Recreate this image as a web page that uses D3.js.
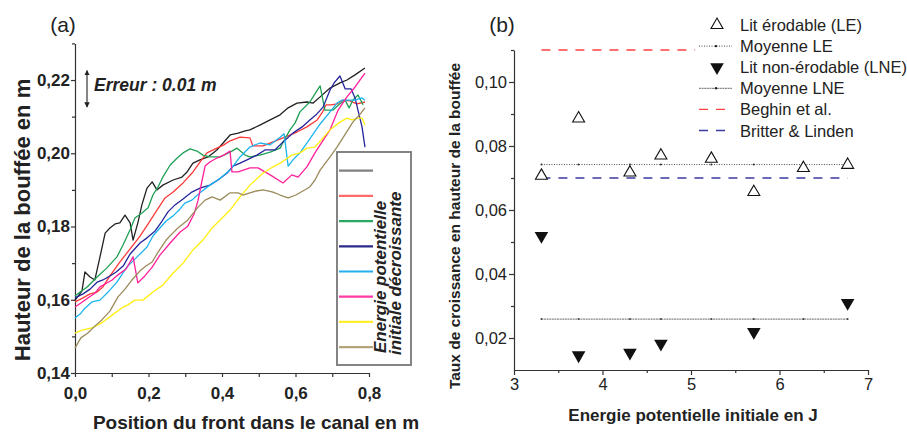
<!DOCTYPE html>
<html><head><meta charset="utf-8">
<script src="https://cdn.jsdelivr.net/npm/d3@7/dist/d3.min.js"></script>
<style>
body{margin:0;background:#fff}
svg{display:block}
text{font-family:"Liberation Sans",Arial,sans-serif;fill:#222}
</style>
</head><body>
<svg id="c" width="907" height="432"></svg>
<script>
// ---------- Panel (a) data ----------
const seriesNames = ["s1","s2","s3","s4","s5","s6","s7","s8"];
const blackX = [0,.011,.019,.027,.041,.054,.068,.082,.095,.109,.122,.136,.150,.158,.171,.182,.196,.210,.223,.239,.267,.291,.305,.321,.340,.362,.386,.403,.422,.444,.463,.476,.503,.531,.558,.580,.604,.631,.648,.667,.694,.721,.740,.762,.789];
const blackY = [.1599,.1613,.1624,.1676,.1662,.1654,.1717,.1782,.1796,.1807,.1810,.1831,.1810,.1763,.1810,.1859,.1905,.1922,.1900,.1913,.1927,.1935,.1949,.1973,.1982,.1990,.2009,.2028,.2050,.2055,.2061,.2064,.2077,.2091,.2105,.2124,.2137,.2140,.2137,.2154,.2178,.2192,.2200,.2214,.2233];
const redX = [0,.022,.041,.060,.076,.095,.122,.150,.177,.199,.223,.245,.267,.294,.321,.340,.359,.386,.405,.422,.449,.476,.484,.512,.539,.566,.604,.631,.659,.672,.683,.697,.713,.729,.748,.767,.789];
const redY = [.1594,.1605,.1616,.1621,.1635,.1665,.1703,.1739,.1774,.1807,.1845,.1878,.1894,.1919,.1949,.1976,.2001,.2014,.2023,.2034,.2044,.2042,.2020,.2020,.2031,.2042,.2058,.2072,.2091,.2110,.2132,.2132,.2135,.2145,.2143,.2135,.2140];
const greenX = [0,.014,.033,.060,.087,.114,.131,.150,.163,.182,.199,.212,.226,.239,.259,.278,.294,.313,.332,.348,.367,.395,.422,.441,.463,.476,.503,.531,.558,.571,.585,.599,.612,.639,.656,.667,.680,.702,.721,.735,.746,.756,.770,.784];
const greenY = [.1610,.1621,.1635,.1662,.1687,.1717,.1750,.1791,.1823,.1837,.1851,.1886,.1908,.1935,.1968,.1987,.2001,.2012,.2006,.1995,.1990,.1990,.2003,.2014,.1995,.1990,.1995,.2003,.2014,.2039,.2064,.2083,.2113,.2140,.2167,.2184,.2118,.2118,.2135,.2145,.2124,.2145,.2159,.2132];
const blueX = [0,.022,.041,.060,.076,.095,.112,.131,.150,.177,.196,.218,.237,.253,.272,.294,.318,.340,.367,.389,.414,.430,.449,.468,.495,.517,.544,.566,.593,.618,.639,.656,.675,.694,.705,.721,.735,.751,.762,.770,.781,.789];
const blueY = [.1605,.1616,.1629,.1648,.1654,.1665,.1676,.1692,.1725,.1755,.1769,.1788,.1815,.1840,.1859,.1875,.1894,.1905,.1913,.1927,.1946,.1965,.1973,.1982,.1995,.2009,.2009,.2031,.2055,.2072,.2091,.2105,.2126,.2173,.2192,.2211,.2176,.2176,.2151,.2118,.2072,.2017];
const cyanX = [0,.014,.027,.046,.068,.090,.114,.141,.169,.196,.212,.231,.248,.267,.286,.299,.318,.340,.367,.395,.422,.449,.476,.503,.531,.558,.569,.580,.593,.612,.639,.667,.694,.713,.727,.743,.762,.781,.789];
const cyanY = [.1550,.1561,.1577,.1594,.1599,.1621,.1648,.1689,.1717,.1744,.1774,.1796,.1815,.1829,.1848,.1864,.1872,.1892,.1913,.1932,.1954,.1990,.2017,.2028,.2023,.2044,.2053,.1965,.1982,.2001,.2039,.2080,.2113,.2137,.2145,.2145,.2145,.2151,.2145];
const magentaX = [0,.016,.035,.054,.068,.082,.101,.117,.139,.158,.171,.190,.210,.231,.259,.286,.307,.324,.335,.346,.354,.367,.386,.405,.422,.427,.444,.476,.498,.531,.566,.590,.607,.631,.653,.667,.694,.716,.740,.762,.789];
const magentaY = [.1580,.1591,.1605,.1618,.1635,.1643,.1654,.1668,.1684,.1717,.1646,.1665,.1689,.1722,.1755,.1785,.1801,.1834,.1872,.1927,.1965,.1976,.1987,.1995,.2006,.1949,.1949,.1960,.1960,.1941,.1919,.1941,.1935,.1963,.2001,.2023,.2064,.2118,.2154,.2181,.2219];
const yellowX = [0,.019,.046,.073,.101,.131,.144,.163,.185,.212,.239,.267,.294,.321,.348,.373,.395,.422,.449,.476,.512,.539,.563,.590,.612,.631,.653,.675,.694,.721,.740,.754,.770,.781,.789];
const yellowY = [.1509,.1517,.1523,.1537,.1558,.1580,.1586,.1599,.1599,.1621,.1640,.1673,.1700,.1736,.1763,.1796,.1818,.1845,.1881,.1913,.1946,.1963,.1976,.1995,.2001,.2014,.2017,.2042,.2064,.2085,.2096,.2091,.2096,.2096,.2077];
const brownX = [0,.016,.035,.054,.073,.095,.117,.136,.155,.177,.193,.210,.226,.248,.264,.280,.307,.335,.354,.373,.395,.422,.444,.457,.476,.493,.512,.539,.558,.580,.601,.620,.639,.653,.667,.694,.713,.729,.756,.776,.789];
const brownY = [.1468,.1496,.1509,.1528,.1545,.1569,.1608,.1629,.1654,.1679,.1692,.1703,.1730,.1763,.1780,.1796,.1818,.1853,.1872,.1881,.1872,.1892,.1892,.1886,.1892,.1897,.1900,.1894,.1886,.1878,.1886,.1897,.1908,.1927,.1954,.1990,.2017,.2042,.2085,.2107,.2124];
const aXTicks = [0,0.2,0.4,0.6,0.8];
const aXMinor = [0.1,0.3,0.5,0.7];
const aYTicks = [0.14,0.16,0.18,0.20,0.22];
const aYMinor = [0.15,0.17,0.19,0.21,0.23];
const errorValue = 0.01;

// ---------- Panel (b) data ----------
const leX = [3.31,3.73,4.31,4.66,5.23,5.71,6.27,6.77];
const leY = [0.0707,0.0886,0.0717,0.0770,0.0760,0.0656,0.0731,0.0741];
const lneX = [3.31,3.73,4.31,4.66,5.71,6.77];
const lneY = [0.0519,0.0146,0.0154,0.0182,0.0219,0.0310];
const meanLE = 0.0742, meanLNE = 0.0259, beghin = 0.11, britter = 0.070;
const refRange = [3.31,6.77];
const bXTicks = [3,4,5,6,7];
const bXMinor = [3.5,4.5,5.5,6.5];
const bYTicks = [0.02,0.04,0.06,0.08,0.10];
const bYMinor = [0.03,0.05,0.07,0.09,0.11];
const legendB = ["Lit érodable (LE)","Moyenne LE","Lit non-érodable (LNE)","Moyenne LNE","Beghin et al.","Britter & Linden"];

// ---------- styles ----------
const aColors = ["#222222","#ff3a3a","#1fa055","#25259a","#1cb4ee","#ff1f9a","#ffee10","#9c8a5c"];
const aLegendColors = ["#808080","#ff6a6a","#2aa860","#2a2a8a","#22b0ee","#ff3aa0","#ffee30","#b4a47c"];

const svg = d3.select("#c");
const comma = f => v => d3.format(f)(v).replace(".", ",");

// ================= Panel (a) =================
const xa = d3.scaleLinear().domain([0,0.8]).range([75,369]);
const ya = d3.scaleLinear().domain([0.14,0.23]).range([373,43.4]);
const ga = svg.append("g");

function styleAxis(g, bold, size){
  g.select(".domain").attr("stroke","#333").attr("stroke-width",1.2);
  g.selectAll(".tick line").attr("stroke","#333").attr("stroke-width",1.2);
  g.selectAll(".tick text").attr("font-size",size).attr("font-weight",bold?"bold":"normal")
    .attr("fill","#222").attr("font-family","Liberation Sans, Arial, sans-serif");
}

const axYa = ga.append("g").attr("transform","translate(75,0)")
  .call(d3.axisLeft(ya).tickValues(aYTicks).tickFormat(comma(".2f")).tickSize(4).tickPadding(1).tickSizeOuter(0));
styleAxis(axYa,true,17);
const axYam = ga.append("g").attr("transform","translate(75,0)")
  .call(d3.axisLeft(ya).tickValues(aYMinor).tickFormat("").tickSize(3).tickSizeOuter(0));
axYam.select(".domain").remove(); styleAxis(axYam,true,17);

const axXa = ga.append("g").attr("transform","translate(0,373)")
  .call(d3.axisBottom(xa).tickValues(aXTicks).tickFormat(comma(".1f")).tickSize(4).tickPadding(10).tickSizeOuter(0));
styleAxis(axXa,true,17);
const axXam = ga.append("g").attr("transform","translate(0,373)")
  .call(d3.axisBottom(xa).tickValues(aXMinor).tickFormat("").tickSize(4).tickSizeOuter(0));
axXam.select(".domain").remove(); styleAxis(axXam,true,17);

const allA = [[blackX,blackY],[redX,redY],[greenX,greenY],[blueX,blueY],[cyanX,cyanY],[magentaX,magentaY],[yellowX,yellowY],[brownX,brownY]];
const lineA = d3.line().x(d=>xa(d[0])).y(d=>ya(d[1]));
allA.forEach((s,i)=>{
  const pts = s[0].map((x,j)=>[x,s[1][j]]);
  ga.append("path").datum(pts).attr("d",lineA).attr("fill","none")
    .attr("stroke",aColors[i]).attr("stroke-width",1.3).attr("stroke-linejoin","round");
});

// error bar
const errTop = 0.2226, errX = 87;
const defs = svg.append("defs");
defs.append("marker").attr("id","ah").attr("viewBox","0 0 10 10").attr("refX",9).attr("refY",5)
  .attr("markerWidth",5).attr("markerHeight",6).attr("orient","auto-start-reverse")
  .append("path").attr("d","M0,0 L10,5 L0,10 z").attr("fill","#222");
ga.append("line").attr("x1",errX).attr("x2",errX).attr("y1",ya(errTop)).attr("y2",ya(errTop-errorValue))
  .attr("stroke","#222").attr("stroke-width",1.1)
  .attr("marker-start","url(#ah)").attr("marker-end","url(#ah)");
ga.append("text").attr("x",94).attr("y",91).attr("font-size",17.5).attr("font-weight","bold")
  .attr("font-style","italic").text("Erreur : 0.01 m");

// legend (a)
ga.append("rect").attr("x",337).attr("y",152).attr("width",74).attr("height",213)
  .attr("fill","#fff").attr("stroke","#777").attr("stroke-width",1.8);
seriesNames.forEach((n,i)=>{
  const yy = 170.7 + i*25.2;
  ga.append("line").attr("x1",339).attr("x2",373).attr("y1",yy).attr("y2",yy)
    .attr("stroke",aLegendColors[i]).attr("stroke-width",2.2);
});
ga.append("text").attr("transform","translate(386,353) rotate(-90)").attr("font-size",17)
  .attr("font-weight","bold").attr("font-style","italic").text("Energie potentielle");
ga.append("text").attr("transform","translate(401,355) rotate(-90)").attr("font-size",17)
  .attr("font-weight","bold").attr("font-style","italic").text("initiale décroissante");

// titles (a)
ga.append("text").attr("x",63).attr("y",32).attr("text-anchor","middle").attr("font-size",21).text("(a)");
ga.append("text").attr("x",256).attr("y",429).attr("text-anchor","middle").attr("font-size",19)
  .attr("font-weight","bold").text("Position du front dans le canal en m");
ga.append("text").attr("transform","translate(30,220) rotate(-90)").attr("text-anchor","middle")
  .attr("font-size",22).attr("font-weight","bold").text("Hauteur de la bouffée en m");

// ================= Panel (b) =================
const xb = d3.scaleLinear().domain([3,7]).range([514,868]);
const yb = d3.scaleLinear().domain([0.01,0.11]).range([370,50]);
const gb = svg.append("g");

const axYb = gb.append("g").attr("transform","translate(514,0)")
  .call(d3.axisLeft(yb).tickValues(bYTicks).tickFormat(comma(".2f")).tickSize(5).tickPadding(2).tickSizeOuter(0));
styleAxis(axYb,false,16.5);
const axYbm = gb.append("g").attr("transform","translate(514,0)")
  .call(d3.axisLeft(yb).tickValues(bYMinor).tickFormat("").tickSize(3).tickSizeOuter(0));
axYbm.select(".domain").remove(); styleAxis(axYbm,false,16);
const axXb = gb.append("g").attr("transform","translate(0,370)")
  .call(d3.axisBottom(xb).tickValues(bXTicks).tickFormat(d3.format("d")).tickSize(5).tickPadding(3).tickSizeOuter(0));
styleAxis(axXb,false,16.5);
const axXbm = gb.append("g").attr("transform","translate(0,370)")
  .call(d3.axisBottom(xb).tickValues(bXMinor).tickFormat("").tickSize(3).tickSizeOuter(0));
axXbm.select(".domain").remove(); styleAxis(axXbm,false,16);

// reference lines
function hline(v, color, dash, w){
  return gb.append("line").attr("x1",xb(refRange[0])).attr("x2",xb(refRange[1]))
    .attr("y1",yb(v)).attr("y2",yb(v)).attr("stroke",color).attr("stroke-width",w)
    .attr("stroke-dasharray",dash);
}
hline(beghin,"#ff4040","9,8",1.3);
hline(britter,"#3a3aa0","9,8",1.3);
hline(meanLE,"#333","1,1.5",0.9);
hline(meanLNE,"#888","2,0.6",1.3);
leX.forEach(x=>{
  gb.append("circle").attr("cx",xb(x)).attr("cy",yb(meanLE)).attr("r",1).attr("fill","#333");
  gb.append("circle").attr("cx",xb(x)).attr("cy",yb(meanLNE)).attr("r",1).attr("fill","#444");
});

const triUp = d3.symbol().type(d3.symbolTriangle).size(62);
const triDown = d3.symbol().type(d3.symbolTriangle).size(80);
leX.forEach((x,i)=>{
  gb.append("path").attr("d",triUp()).attr("transform",`translate(${xb(x)},${yb(leY[i])})`)
    .attr("fill","#fff").attr("stroke","#111").attr("stroke-width",1.1);
});
lneX.forEach((x,i)=>{
  gb.append("path").attr("d",triDown()).attr("transform",`translate(${xb(x)},${yb(lneY[i])}) rotate(180)`)
    .attr("fill","#111");
});

// legend (b)
gb.append("rect").attr("x",695).attr("y",8).attr("width",212).attr("height",134).attr("fill","#fff");
const lgY = i => 25 + i*21.1;
legendB.forEach((t,i)=>{
  gb.append("text").attr("x",740).attr("y",lgY(i)+6).attr("font-size",16.5).text(t);
});
gb.append("path").attr("d",triUp()).attr("transform",`translate(717,${lgY(0)})`)
  .attr("fill","#fff").attr("stroke","#111").attr("stroke-width",1.1);
gb.append("path").attr("d",triDown()).attr("transform",`translate(717,${lgY(2)}) rotate(180)`).attr("fill","#111");
function lgLine(i,color,dash,w){
  gb.append("line").attr("x1",699).attr("x2",732).attr("y1",lgY(i)).attr("y2",lgY(i))
    .attr("stroke",color).attr("stroke-width",w).attr("stroke-dasharray",dash);
}
lgLine(1,"#333","1,1.5",0.9);
gb.append("circle").attr("cx",716).attr("cy",lgY(1)).attr("r",1.2).attr("fill","#222");
lgLine(3,"#888","2,0.6",1.3);
gb.append("circle").attr("cx",716).attr("cy",lgY(3)).attr("r",1.2).attr("fill","#222");
lgLine(4,"#ff4040","9,8",1.3);
lgLine(5,"#3a3aa0","9,8",1.3);

// titles (b)
gb.append("text").attr("x",502).attr("y",32).attr("text-anchor","middle").attr("font-size",21).text("(b)");
gb.append("text").attr("x",693).attr("y",421).attr("text-anchor","middle").attr("font-size",17)
  .attr("font-weight","bold").text("Energie potentielle initiale en J");
gb.append("text").attr("transform","translate(460,226) rotate(-90)").attr("text-anchor","middle")
  .attr("font-size",15.5).attr("font-weight","bold").text("Taux de croissance en hauteur de la bouffée");
</script>
</body></html>
